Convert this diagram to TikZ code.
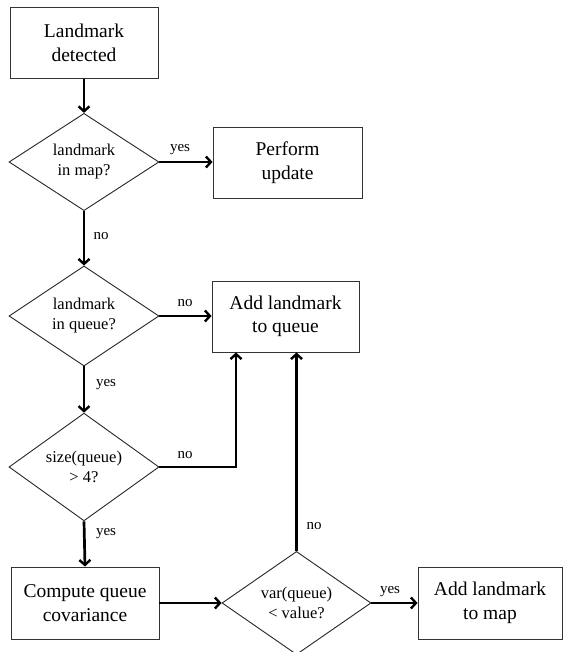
\documentclass[tikz,border=0pt]{standalone}
\usepackage{fontspec}
\setmainfont{Liberation Serif}
\usetikzlibrary{shapes.geometric,arrows.meta,calc}
\begin{document}
\begin{tikzpicture}[x=1pt,y=-1pt,
  box/.style={draw=black!80,line width=0.9pt,rectangle,inner sep=0pt,align=center,font=\fontsize{19.5}{23.5}\selectfont},
  dec/.style={draw=black!85,line width=0.9pt,diamond,inner sep=0pt,align=center,font=\fontsize{16.5}{20}\selectfont},
  conn/.style={line width=2.7pt,-{Straight Barb[length=5pt,width=11pt,line width=2.4pt]}},
  lab/.style={font=\fontsize{15}{17}\selectfont,inner sep=0pt}]
\useasboundingbox (0,0) rectangle (563,652);
\node[box,minimum width=148pt,minimum height=71pt] (b1) at (84,43) {Landmark\\detected};
\node[dec,minimum width=150pt,minimum height=97pt] (d1) at (84,162) {landmark\\in map?};
\node[box,minimum width=149pt,minimum height=71pt] (pu) at (287.5,162.5) {Perform\\update};
\node[dec,minimum width=150pt,minimum height=100pt] (d2) at (84,316) {landmark\\in queue?};
\node[box,minimum width=147pt,minimum height=71pt] (aq) at (285.5,316.5) {Add landmark\\to queue};
\node[dec,minimum width=150pt,minimum height=100pt] (d3) at (84,467) {size(queue)\\> 4?};
\node[box,minimum width=148pt,minimum height=72pt] (cq) at (85,603) {Compute queue\\covariance};
\node[dec,minimum width=149pt,minimum height=98pt] (d4) at (296.5,603) {var(queue)\\< value?};
\node[box,minimum width=144pt,minimum height=72pt] (am) at (490,603) {Add landmark\\to map};
\coordinate (c3) at (236,467);
\draw[conn] (b1.south) -- (d1.north);
\draw[conn] (d1.east) -- (d1.east -| pu.west);
\draw[conn] (d1.south) -- (d2.north);
\draw[conn] (d2.east) -- (d2.east -| aq.west);
\draw[conn] (d2.south) -- (d3.north);
\draw[conn] (d3.east) -- (c3) -- (c3 |- aq.south);
\draw[conn] (d3.south) -- (cq.north);
\draw[conn] (cq.east) -- (d4.west);
\draw[conn] (d4.north) -- (d4.north |- aq.south);
\draw[conn] (d4.east) -- (am.west);
\node[lab] (l1) at (180,150) {yes};
\node[lab] (l2) at (101,236) {no};
\node[lab] (l3) at (185,303) {no};
\node[lab] (l4) at (106,385) {yes};
\node[lab] (l5) at (185,455) {no};
\node[lab] (l6) at (106,534) {yes};
\node[lab] (l7) at (314,526) {no};
\node[lab] (l8) at (390,592) {yes};
\end{tikzpicture}
\end{document}
